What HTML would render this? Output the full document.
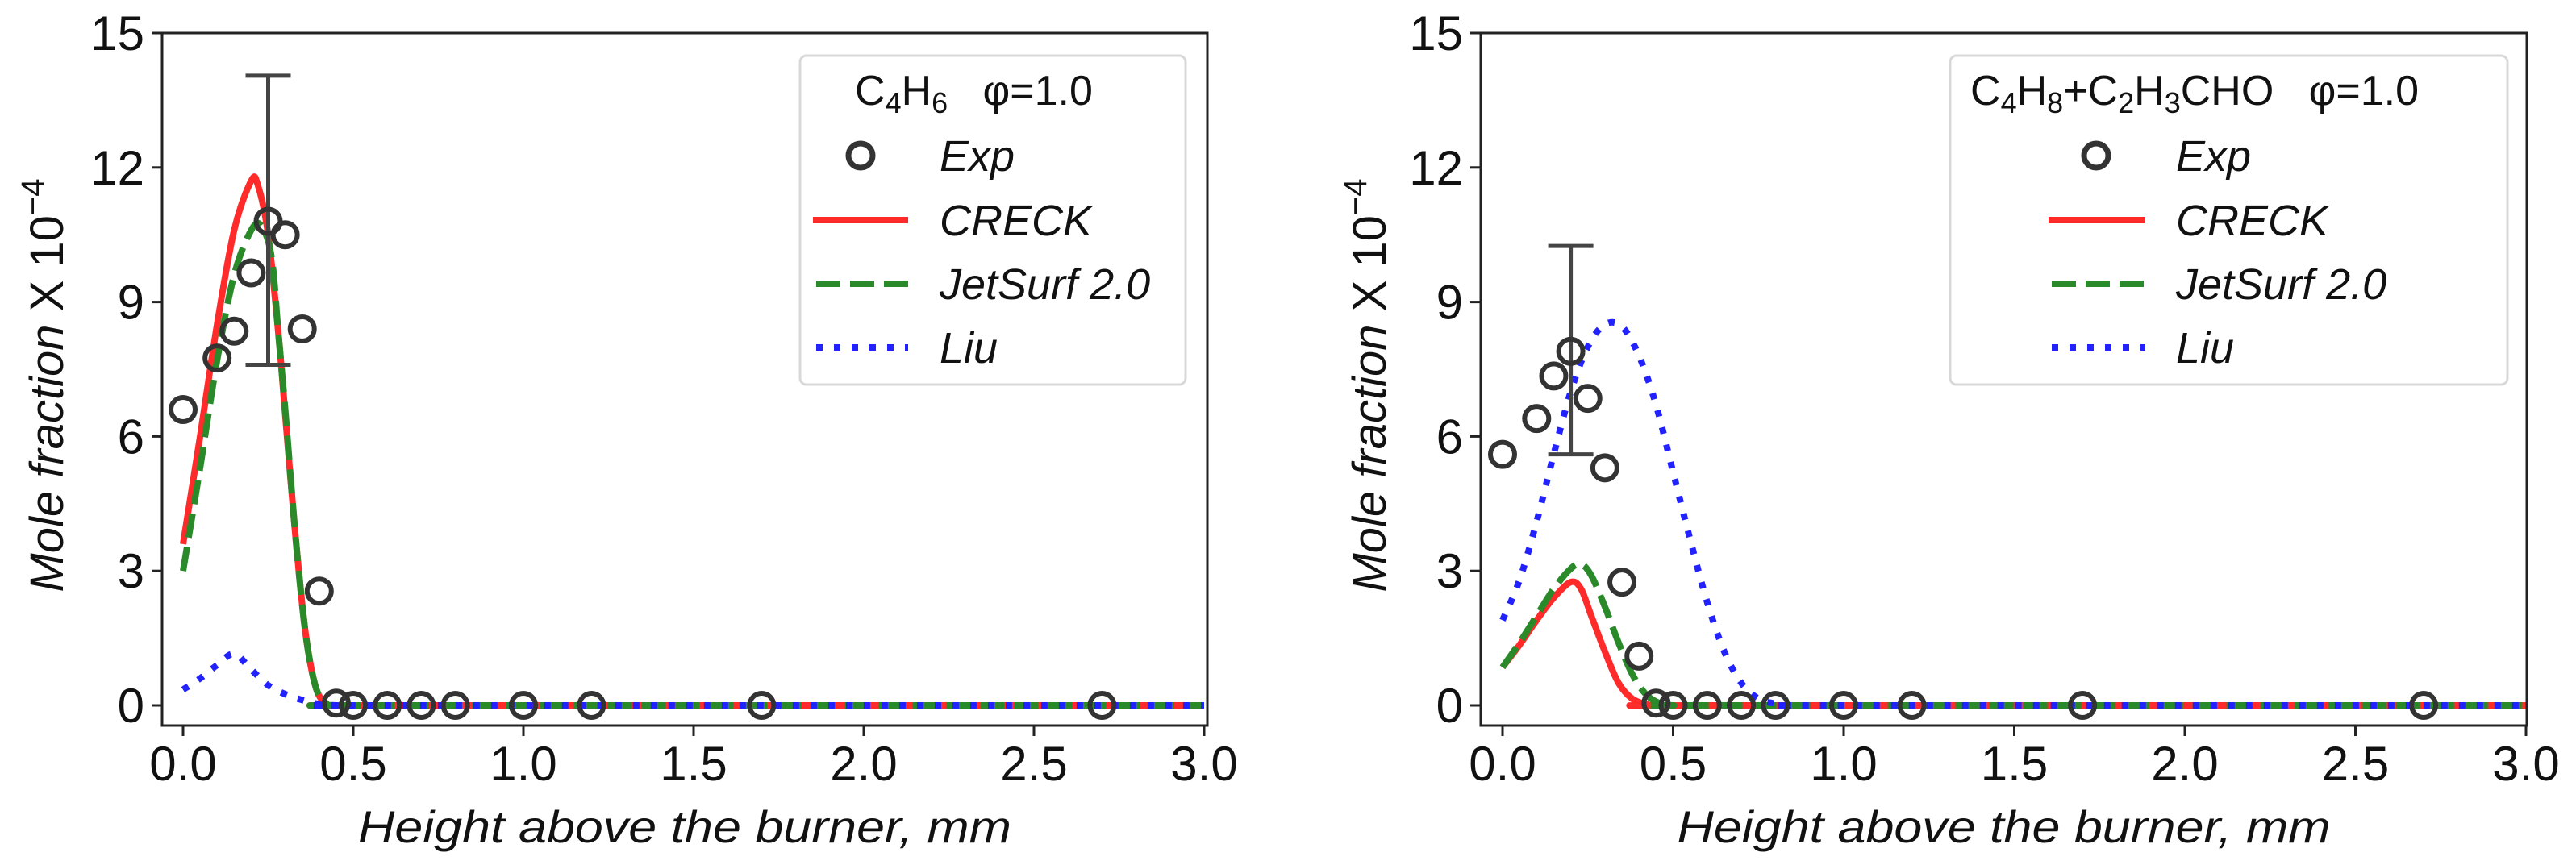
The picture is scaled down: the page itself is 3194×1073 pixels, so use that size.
<!DOCTYPE html>
<html><head><meta charset="utf-8"><style>
html,body{margin:0;padding:0;background:#fff}
svg{display:block}
text{font-family:"Liberation Sans","DejaVu Sans",sans-serif;fill:#111}
</style></head><body>
<svg id="fig" width="3194" height="1073" xmlns="http://www.w3.org/2000/svg"></svg>
<script>
const xTicks=[0,0.5,1.0,1.5,2.0,2.5,3.0];
const xTickLabels=["0.0","0.5","1.0","1.5","2.0","2.5","3.0"];
const yTicks=[0,3,6,9,12,15];
const yTickLabels=["0","3","6","9","12","15"];
const expX=[0,0.1,0.15,0.2,0.25,0.3,0.35,0.4,0.45,0.5,0.6,0.7,0.8,1.0,1.2,1.7,2.7];
const expY1=[6.6,7.75,8.35,9.65,10.8,10.5,8.4,2.55,0.05,0,0,0,0,0,0,0,0];
const expY2=[5.6,6.4,7.35,7.9,6.85,5.3,2.75,1.1,0.05,0,0,0,0,0,0,0,0];
const err1=[0.25,7.6,14.05];
const err2=[0.2,5.6,10.25];
const creck1X=[0,0.05,0.1,0.15,0.2,0.22,0.25,0.28,0.3,0.33,0.36,0.39,0.42,0.45,0.6,3];
const creck1Y=[3.6,6.0,8.5,10.6,11.7,11.6,10.5,8.3,6.5,3.8,1.6,0.4,0.05,0,0,0];
const jet1X=[0,0.05,0.1,0.15,0.2,0.23,0.26,0.28,0.3,0.33,0.36,0.39,0.42,0.45,0.6,3];
const jet1Y=[3.0,5.3,7.7,9.6,10.6,10.7,10.0,8.3,6.6,3.8,1.6,0.4,0.05,0,0,0];
const liu1X=[0,0.05,0.1,0.15,0.2,0.25,0.3,0.35,0.4,0.45,0.6,3];
const liu1Y=[0.35,0.6,0.9,1.15,0.8,0.45,0.25,0.12,0.03,0,0,0];
const creck2X=[0,0.05,0.1,0.15,0.2,0.23,0.26,0.3,0.34,0.38,0.42,0.45,0.6,3];
const creck2Y=[0.85,1.35,1.9,2.4,2.75,2.6,2.0,1.2,0.5,0.15,0.03,0,0,0];
const jet2X=[0,0.05,0.1,0.15,0.2,0.23,0.26,0.3,0.34,0.38,0.42,0.46,0.5,0.65,3];
const jet2Y=[0.85,1.4,2.0,2.6,3.05,3.15,2.9,2.2,1.4,0.7,0.25,0.05,0,0,0];
const liu2X=[0,0.05,0.1,0.15,0.2,0.25,0.3,0.35,0.4,0.45,0.5,0.55,0.6,0.65,0.7,0.75,0.8,0.85,1.0,3];
const liu2Y=[1.9,2.8,4.1,5.6,7.0,8.0,8.5,8.45,7.8,6.7,5.2,3.7,2.3,1.2,0.5,0.15,0.04,0,0,0];

const NS="http://www.w3.org/2000/svg";
const svg=document.getElementById('fig');
function mk(tag,attrs,parent){const e=document.createElementNS(NS,tag);for(const k in attrs)e.setAttribute(k,attrs[k]);(parent||svg).appendChild(e);return e;}
function smooth(pts){
  let d='M'+pts[0][0]+','+pts[0][1];
  for(let i=0;i<pts.length-1;i++){
    const p0=pts[Math.max(i-1,0)],p1=pts[i],p2=pts[i+1],p3=pts[Math.min(i+2,pts.length-1)];
    const c1x=p1[0]+(p2[0]-p0[0])/6,c1y=p1[1]+(p2[1]-p0[1])/6;
    const c2x=p2[0]-(p3[0]-p1[0])/6,c2y=p2[1]-(p3[1]-p1[1])/6;
    d+=` C${c1x},${c1y} ${c2x},${c2y} ${p2[0]},${p2[1]}`;
  }
  return d;
}

function panel(cfg){
  const g=mk('g',{});
  
  
  const X0=cfg.x0, XS=cfg.xs, Y0=875, YS=55.6;
  const sx=v=>X0+v*XS, sy=v=>Y0-v*YS;
  const left=cfg.left, right=cfg.right, top=41, bottom=900;
  function line(xs,ys,color,dash,nm){
    const p=mk('path',{d:smooth(xs.map((v,i)=>[sx(v),sy(ys[i])])),fill:'none',stroke:color,'stroke-width':8,'stroke-dasharray':dash,'stroke-linejoin':'round'},g);
    
    
  }
  line(cfg.cX,cfg.cY,'#ff2a2a','none','creck-line');
  line(cfg.jX,cfg.jY,'#2a8a2a','30 12','jetsurf-line');
  line(cfg.lX,cfg.lY,'#2222ff','8 14','liu-line');
  const eb=mk('g',{stroke:'#444','stroke-width':5},g);
  
  
  mk('line',{x1:sx(cfg.err[0]),x2:sx(cfg.err[0]),y1:sy(cfg.err[1]),y2:sy(cfg.err[2])},eb);
  mk('line',{x1:sx(cfg.err[0])-28,x2:sx(cfg.err[0])+28,y1:sy(cfg.err[1]),y2:sy(cfg.err[1])},eb);
  mk('line',{x1:sx(cfg.err[0])-28,x2:sx(cfg.err[0])+28,y1:sy(cfg.err[2]),y2:sy(cfg.err[2])},eb);
  expX.forEach((v,i)=>{
    const c=mk('circle',{cx:sx(v),cy:sy(cfg.eY[i]),r:15,fill:'none',stroke:'#333','stroke-width':6},g);
    
    
  });
  const sp=mk('rect',{x:left,y:top,width:right-left,height:bottom-top,fill:'none',stroke:'#222','stroke-width':3},g);
  
  
  xTicks.forEach((v,i)=>{
    mk('line',{x1:sx(v),x2:sx(v),y1:bottom,y2:bottom+13,stroke:'#222','stroke-width':3},g);
    const t=mk('text',{x:sx(v),y:968,'text-anchor':'middle','font-size':60},g);
    t.textContent=xTickLabels[i];
    
    
  });
  yTicks.forEach((v,i)=>{
    mk('line',{x1:left-13,x2:left,y1:sy(v),y2:sy(v),stroke:'#222','stroke-width':3},g);
    const t=mk('text',{x:left-22,y:sy(v)+21,'text-anchor':'end','font-size':60},g);
    t.textContent=yTickLabels[i];
    
    
  });
  const xl=mk('text',{x:(left+right)/2,y:1045,'text-anchor':'middle','font-size':56,'font-style':'italic',textLength:810,lengthAdjust:'spacingAndGlyphs'},g);
  xl.textContent='Height above the burner, mm';
  
  
  const yl=mk('text',{x:0,y:0,'text-anchor':'middle','font-size':58,transform:`translate(${cfg.ylx},478) rotate(-90)`},g);
  yl.innerHTML='<tspan font-style="italic">Mole fraction</tspan> X 10<tspan dy="-24" font-size="40">−4</tspan>';
  
  
  const L=cfg.leg;
  const lg=mk('g',{},g);
  
  
  mk('rect',{x:L.x,y:69,width:L.w,height:408,rx:8,fill:'#fff',stroke:'#d8d8d8','stroke-width':3},lg);
  const tt=mk('text',{x:L.tx,y:130,'font-size':52},lg);
  tt.innerHTML=cfg.title;
  
  
  const rows=[['Exp',193],['CRECK',273],['JetSurf 2.0',352],['Liu',431]];
  rows.forEach((r,i)=>{
    const e=mk('g',{},lg);
    
    
    if(i===0) mk('circle',{cx:L.mx,cy:r[1],r:15,fill:'none',stroke:'#333','stroke-width':7},e);
    if(i===1) mk('line',{x1:L.h0,x2:L.h1,y1:r[1],y2:r[1],stroke:'#ff2a2a','stroke-width':8},e);
    if(i===2) mk('line',{x1:L.h0+4,x2:L.h1,y1:r[1],y2:r[1],stroke:'#2a8a2a','stroke-width':8,'stroke-dasharray':'30 12'},e);
    if(i===3) mk('line',{x1:L.h0+4,x2:L.h1,y1:r[1],y2:r[1],stroke:'#2222ff','stroke-width':8,'stroke-dasharray':'8 14'},e);
    const t=mk('text',{x:L.t,y:r[1]+19,'font-size':54,'font-style':'italic'},e);
    t.textContent=r[0];
  });
}
panel({name:'left-panel',x0:227,xs:422,left:201,right:1497,ylx:78,eY:expY1,err:err1,
  cX:creck1X,cY:creck1Y,jX:jet1X,jY:jet1Y,lX:liu1X,lY:liu1Y,
  leg:{x:992,w:478,tx:1060,mx:1067,h0:1008,h1:1126,t:1165},
  title:'C<tspan font-size="36" dy="10">4</tspan><tspan dy="-10">H</tspan><tspan font-size="36" dy="10">6</tspan><tspan dy="-10">\u00a0\u00a0\u00a0φ=1.0</tspan>'});
panel({name:'right-panel',x0:1863,xs:423,left:1836,right:3133,ylx:1718,eY:expY2,err:err2,
  cX:creck2X,cY:creck2Y,jX:jet2X,jY:jet2Y,lX:liu2X,lY:liu2Y,
  leg:{x:2418,w:691,tx:2443,mx:2599,h0:2540,h1:2660,t:2698},
  title:'C<tspan font-size="36" dy="10">4</tspan><tspan dy="-10">H</tspan><tspan font-size="36" dy="10">8</tspan><tspan dy="-10">+C</tspan><tspan font-size="36" dy="10">2</tspan><tspan dy="-10">H</tspan><tspan font-size="36" dy="10">3</tspan><tspan dy="-10">CHO\u00a0\u00a0\u00a0φ=1.0</tspan>'});
</script>
</body></html>
